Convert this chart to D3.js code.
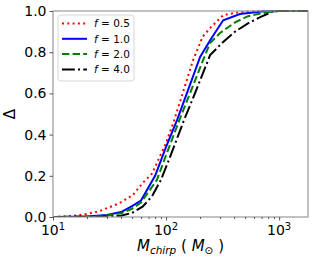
<!DOCTYPE html>
<html>
<head>
<meta charset="utf-8">
<script src="https://cdn.jsdelivr.net/npm/d3@7"></script>
<style>
  body { margin: 0; background: #fff; }
  svg { font-family: "DejaVu Sans", sans-serif; }
</style>
</head>
<body>
<div id="chart"></div>
<script>
// Set dimensions and margins
const width = 317;
const height = 264;
const margin = { left: 53, right: 9, top: 11, bottom: 47 };

// Curve data: chirp mass and Delta for each f
const massHalf = [10, 15, 20, 26, 39, 51, 62, 75, 100, 118, 173, 210, 245, 320, 450, 700, 1800];
const deltaHalf = [0, 0.005, 0.015, 0.029, 0.068, 0.107, 0.165, 0.21, 0.36, 0.47, 0.76, 0.874, 0.917, 0.98, 0.995, 1, 1];

const massOne = [10, 15, 20, 30, 40, 50, 60, 80, 100, 125, 160, 200, 250, 320, 450, 700, 1000, 1800];
const deltaOne = [0, 0.001, 0.003, 0.01, 0.024, 0.053, 0.08, 0.2, 0.34, 0.47, 0.63, 0.777, 0.865, 0.955, 0.985, 0.998, 1, 1];

const massTwo = [10, 20, 30, 40, 50, 60, 83, 100, 131, 160, 212, 245, 300, 408, 530, 800, 1000, 1800];
const deltaTwo = [0, 0.002, 0.007, 0.018, 0.04, 0.07, 0.18, 0.3, 0.47, 0.59, 0.76, 0.845, 0.893, 0.945, 0.975, 0.995, 1, 1];

const massFour = [10, 30, 40, 50, 62, 75, 90, 110, 144, 180, 235, 245, 320, 408, 530, 680, 900, 1800];
const deltaFour = [0, 0.002, 0.006, 0.02, 0.05, 0.1, 0.18, 0.3, 0.47, 0.6, 0.76, 0.786, 0.85, 0.9, 0.94, 0.97, 1, 1];

const fLabels = ["0.5", "1.0", "2.0", "4.0"];
const colors = ["#ff0000", "#0000ff", "#008000", "#000000"];
const dashes = ["2,3.3", null, "7.4,3.2", "12.8,3.2,2,3.2"];

const yTicks = [0, 0.2, 0.4, 0.6, 0.8, 1.0];
const xMajor = [10, 100, 1000];
const xMinor = [20, 30, 40, 50, 60, 70, 80, 90, 200, 300, 400, 500, 600, 700, 800, 900];

const series = [
  { m: massHalf, d: deltaHalf },
  { m: massOne, d: deltaOne },
  { m: massTwo, d: deltaTwo },
  { m: massFour, d: deltaFour }
];

const svg = d3.select("#chart")
  .append("svg")
  .attr("width", width)
  .attr("height", height);

// Scales
const x = d3.scaleLog()
  .domain([10, 1800])
  .range([margin.left, width - margin.right]);

const y = d3.scaleLinear()
  .domain([0, 1])
  .range([height - margin.bottom, margin.top]);

// Curves
const line = d3.line()
  .x(p => x(p[0]))
  .y(p => y(p[1]));

svg.append("defs").append("clipPath")
  .attr("id", "clip")
  .append("rect")
  .attr("x", margin.left)
  .attr("y", margin.top - 2)
  .attr("width", width - margin.left - margin.right)
  .attr("height", height - margin.top - margin.bottom + 2);

series.forEach((s, i) => {
  svg.append("path")
    .datum(d3.zip(s.m, s.d))
    .attr("clip-path", "url(#clip)")
    .attr("fill", "none")
    .attr("stroke", colors[i])
    .attr("stroke-width", 2)
    .attr("stroke-dasharray", dashes[i])
    .attr("d", line);
});

// Frame
svg.append("rect")
  .attr("x", margin.left)
  .attr("y", margin.top)
  .attr("width", width - margin.left - margin.right)
  .attr("height", height - margin.top - margin.bottom)
  .attr("fill", "none")
  .attr("stroke", "#999")
  .attr("stroke-width", 1.2);

// Y axis
const yAxis = svg.append("g")
  .attr("transform", `translate(${margin.left},0)`)
  .call(d3.axisLeft(y).tickValues(yTicks).tickFormat(d3.format(".1f")).tickSize(3.5).tickPadding(3));
yAxis.select(".domain").remove();
yAxis.selectAll("line").attr("stroke", "#555");
yAxis.selectAll("text").attr("font-size", 14).attr("fill", "#000")
  .attr("font-family", "DejaVu Sans");

// X axis major and minor ticks
const xAxis = svg.append("g")
  .attr("transform", `translate(0,${height - margin.bottom})`)
  .call(d3.axisBottom(x).tickValues(xMajor).tickFormat("").tickSize(3.5));
xAxis.select(".domain").remove();
xAxis.selectAll("line").attr("stroke", "#555");

const xMinorAxis = svg.append("g")
  .attr("transform", `translate(0,${height - margin.bottom})`)
  .call(d3.axisBottom(x).tickValues(xMinor).tickFormat("").tickSize(2));
xMinorAxis.select(".domain").remove();
xMinorAxis.selectAll("line").attr("stroke", "#555");

// Power-of-ten labels
xMajor.forEach(v => {
  const t = svg.append("text")
    .attr("x", x(v))
    .attr("y", height - margin.bottom + 18)
    .attr("text-anchor", "middle")
    .attr("font-size", 14);
  t.append("tspan").text("10");
  t.append("tspan").attr("dy", -5.5).attr("font-size", 10).text(Math.round(Math.log10(v)));
});

// Axis labels
svg.append("text")
  .attr("transform", `translate(15,${(margin.top + height - margin.bottom) / 2}) rotate(-90)`)
  .attr("text-anchor", "middle")
  .attr("font-size", 15)
  .text("Δ");

const xl = svg.append("text")
  .attr("x", (margin.left + width - margin.right) / 2)
  .attr("y", 251)
  .attr("text-anchor", "middle")
  .attr("font-size", 15);
xl.append("tspan").attr("font-style", "italic").text("M");
xl.append("tspan").attr("font-style", "italic").attr("font-size", 10.5).attr("dy", 3).text("chirp");
xl.append("tspan").attr("dy", -3).text(" ( ");
xl.append("tspan").attr("font-style", "italic").text("M");
xl.append("tspan").attr("font-size", 10.5).attr("dy", 3).text("⊙");
xl.append("tspan").attr("dy", -3).text(" )");

// Legend
const legend = svg.append("g").attr("transform", "translate(58,15)");
legend.append("rect")
  .attr("width", 76)
  .attr("height", 66)
  .attr("rx", 2.5)
  .attr("fill", "#fff")
  .attr("fill-opacity", 0.8)
  .attr("stroke", "#ccc")
  .attr("stroke-width", 0.8);

fLabels.forEach((f, i) => {
  const yy = 8.5 + i * 15.3;
  legend.append("line")
    .attr("x1", 4).attr("x2", 29)
    .attr("y1", yy).attr("y2", yy)
    .attr("stroke", colors[i])
    .attr("stroke-width", 2)
    .attr("stroke-dasharray", dashes[i]);
  const t = legend.append("text")
    .attr("x", 36)
    .attr("y", yy + 3.8)
    .attr("font-size", 10.5);
  t.append("tspan").attr("font-style", "italic").text("f");
  t.append("tspan").text(" = " + f);
});
</script>
</body>
</html>
